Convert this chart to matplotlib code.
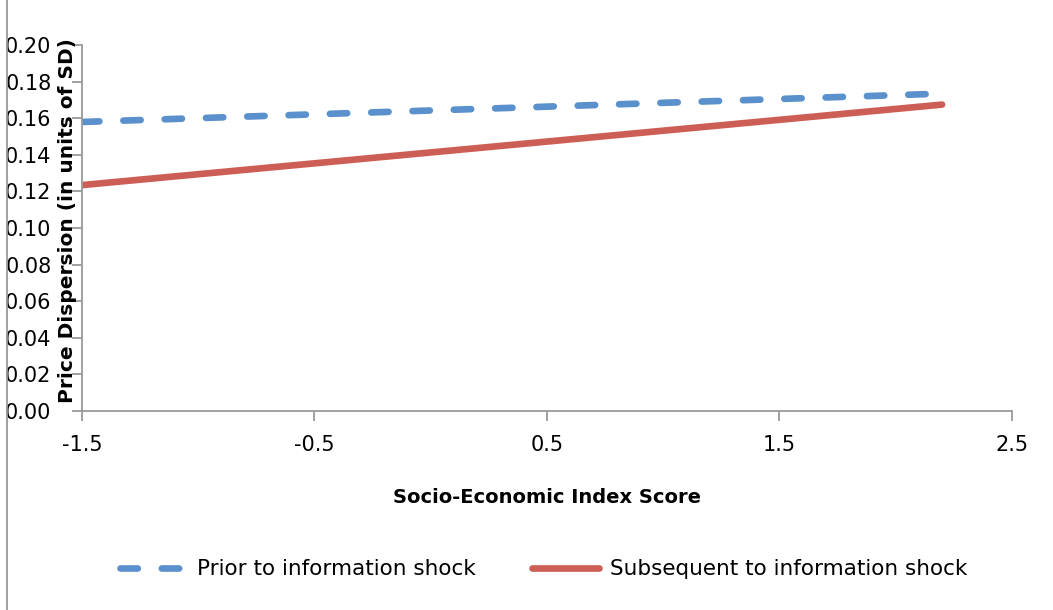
import matplotlib
matplotlib.use('Agg')
from matplotlib import pyplot as plt
from matplotlib.lines import Line2D

plt.rcParams['font.family'] = ['DejaVu Sans']

# fitted lines
x_vals = [-1.5, 2.2]
prior = [0.158, 0.1735]
subsequent = [0.1235, 0.1675]
x_ticks = [-1.5, -0.5, 0.5, 1.5, 2.5]
y_ticks = [0.00, 0.02, 0.04, 0.06, 0.08, 0.10, 0.12, 0.14, 0.16, 0.18, 0.20]

blue = '#5A90CB'
red = '#CD5E56'
grey = '#9A9A9A'

fig = plt.figure(figsize=(10.53, 6.10), dpi=100)
ax = fig.add_axes([0.0779, 0.3262, 0.883, 0.5998])

ax.plot(x_vals, prior, color=blue, lw=4.8, dashes=(2.6, 3.6),
        dash_capstyle='round', solid_capstyle='round',
        label='Prior to information shock')
ax.plot(x_vals, subsequent, color=red, lw=4.8, solid_capstyle='round',
        label='Subsequent to information shock')

ax.set_xlim(-1.5, 2.5)
ax.set_ylim(0, 0.20)
ax.set_xticks(x_ticks)
ax.set_xticklabels([str(t) for t in x_ticks])
ax.set_yticks(y_ticks)
ax.set_yticklabels(['%.2f' % t for t in y_ticks])

for s in ['top', 'right']:
    ax.spines[s].set_visible(False)
for s in ['left', 'bottom']:
    ax.spines[s].set_color(grey)
    ax.spines[s].set_linewidth(1.3)
ax.tick_params(axis='y', direction='out', length=7, width=1.3, color=grey,
               labelsize=15, pad=15)
ax.tick_params(axis='x', direction='out', length=7, width=1.3, color=grey,
               labelsize=15, pad=10)

ax.set_ylabel('Price Dispersion (in units of SD)', fontsize=14.5, fontweight='bold')
ax.yaxis.set_label_coords(-0.005, 0.52)
ax.set_xlabel('Socio-Economic Index Score', fontsize=14, fontweight='bold')
ax.xaxis.set_label_coords(0.5, -0.21)

fig.legend(loc='center', bbox_to_anchor=(0.516, 0.067), ncol=2, frameon=False,
           fontsize=15.5, handlelength=3.1, columnspacing=2.6, handletextpad=0.5)

# outer chart frame on the left edge
fig.add_artist(Line2D([0.0068, 0.0068], [0, 1], color=grey, lw=1.3))

plt.savefig('out.png', dpi=100)
